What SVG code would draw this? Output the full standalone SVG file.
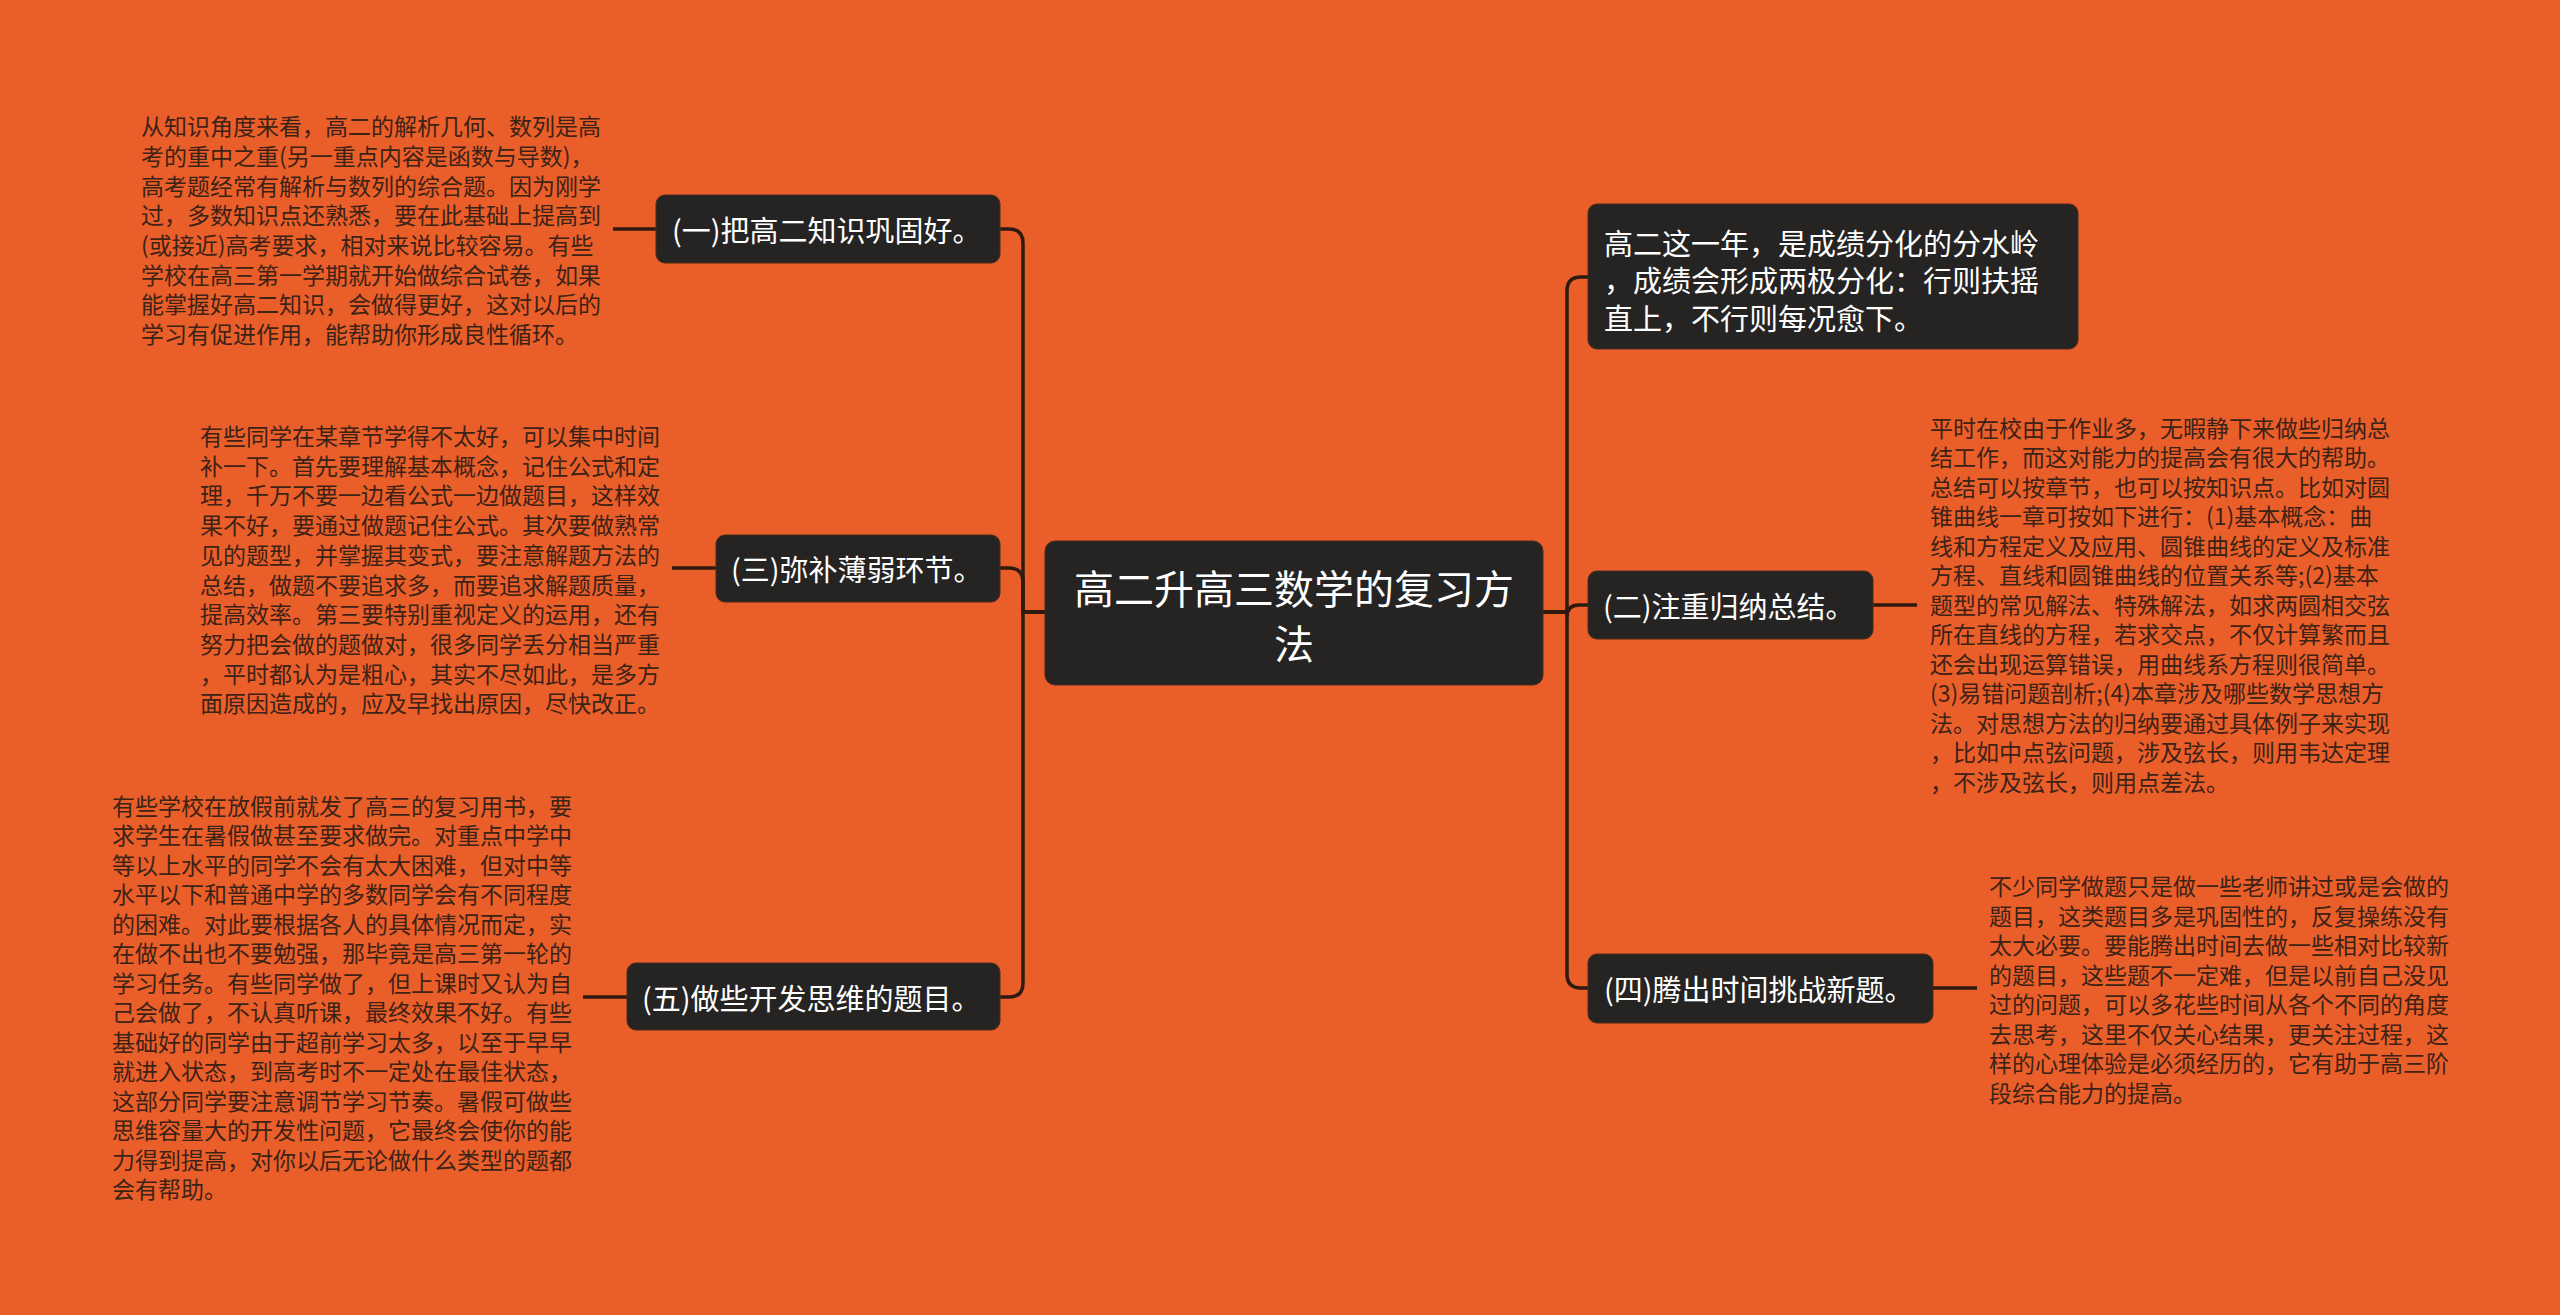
<svg xmlns="http://www.w3.org/2000/svg" width="2560" height="1315" viewBox="0 0 2560 1315">
<style>
.bg{fill:#EA5E2A}
.box{fill:#252423;stroke:#4a2a18;stroke-width:1}
.nt{font-family:"Noto Sans CJK SC","Noto Sans",sans-serif;font-size:29px;fill:#ffffff;dominant-baseline:central}
.ct{font-family:"Noto Sans CJK SC","Noto Sans",sans-serif;font-size:40px;fill:#ffffff;dominant-baseline:central;text-anchor:middle}
.dt{font-family:"Noto Sans CJK SC","Noto Sans",sans-serif;font-size:23px;fill:#3d2216;dominant-baseline:central}
.ln{fill:none;stroke:#2e1a10;stroke-width:3.5}
</style>
<rect class="bg" x="0" y="0" width="2560" height="1315"/>
<g id="connectors">
<path class="ln" d="M1045,612 H1023 V243 Q1023,229 1009,229 H1000"/>
<path class="ln" d="M1045,612 H1023 V582 Q1023,568 1009,568 H1000"/>
<path class="ln" d="M1045,612 H1023 V983 Q1023,997 1009,997 H1000"/>
<path class="ln" d="M1543,612 H1567 V291 Q1567,277 1581,277 H1588"/>
<path class="ln" d="M1543,612 H1567 V617 Q1567,605 1579,605 H1588"/>
<path class="ln" d="M1543,612 H1567 V974 Q1567,988 1581,988 H1588"/>
<path class="ln" d="M656,229 H613"/>
<path class="ln" d="M716,568 H672"/>
<path class="ln" d="M627,997 H583"/>
<path class="ln" d="M1873,605 H1917"/>
<path class="ln" d="M1933,988 H1977"/>
</g>
<g id="root">
<rect class="box" x="1045" y="541" width="498" height="144" rx="10"/>
<text class="ct" x="1294" y="587">高二升高三数学的复习方</text>
<text class="ct" x="1294" y="642">法</text>
</g>
<g id="n1">
<rect class="box" x="656" y="195" width="344" height="68" rx="9"/>
<text class="nt" x="672" y="229">(一)把高二知识巩固好。</text>
</g>
<g id="n3">
<rect class="box" x="716" y="535" width="284" height="67" rx="9"/>
<text class="nt" x="731" y="568">(三)弥补薄弱环节。</text>
</g>
<g id="n5">
<rect class="box" x="627" y="963" width="373" height="67" rx="9"/>
<text class="nt" x="642" y="997">(五)做些开发思维的题目。</text>
</g>
<g id="n0">
<rect class="box" x="1588" y="204" width="490" height="145" rx="9"/>
<text class="nt" x="1604" y="242">高二这一年，是成绩分化的分水岭</text>
<text class="nt" x="1604" y="279">，成绩会形成两极分化：行则扶摇</text>
<text class="nt" x="1604" y="317">直上，不行则每况愈下。</text>
</g>
<g id="n2">
<rect class="box" x="1588" y="571" width="285" height="68" rx="9"/>
<text class="nt" x="1603" y="605">(二)注重归纳总结。</text>
</g>
<g id="n4">
<rect class="box" x="1588" y="954" width="345" height="69" rx="9"/>
<text class="nt" x="1604" y="988">(四)腾出时间挑战新题。</text>
</g>
<g id="d1">
<text class="dt" x="141" y="125">从知识角度来看，高二的解析几何、数列是高</text>
<text class="dt" x="141" y="155">考的重中之重(另一重点内容是函数与导数)，</text>
<text class="dt" x="141" y="185">高考题经常有解析与数列的综合题。因为刚学</text>
<text class="dt" x="141" y="214">过，多数知识点还熟悉，要在此基础上提高到</text>
<text class="dt" x="141" y="244">(或接近)高考要求，相对来说比较容易。有些</text>
<text class="dt" x="141" y="274">学校在高三第一学期就开始做综合试卷，如果</text>
<text class="dt" x="141" y="303">能掌握好高二知识，会做得更好，这对以后的</text>
<text class="dt" x="141" y="333">学习有促进作用，能帮助你形成良性循环。</text>
</g>
<g id="d3">
<text class="dt" x="200" y="435">有些同学在某章节学得不太好，可以集中时间</text>
<text class="dt" x="200" y="465">补一下。首先要理解基本概念，记住公式和定</text>
<text class="dt" x="200" y="494">理，千万不要一边看公式一边做题目，这样效</text>
<text class="dt" x="200" y="524">果不好，要通过做题记住公式。其次要做熟常</text>
<text class="dt" x="200" y="554">见的题型，并掌握其变式，要注意解题方法的</text>
<text class="dt" x="200" y="584">总结，做题不要追求多，而要追求解题质量，</text>
<text class="dt" x="200" y="613">提高效率。第三要特别重视定义的运用，还有</text>
<text class="dt" x="200" y="643">努力把会做的题做对，很多同学丢分相当严重</text>
<text class="dt" x="200" y="673">，平时都认为是粗心，其实不尽如此，是多方</text>
<text class="dt" x="200" y="702">面原因造成的，应及早找出原因，尽快改正。</text>
</g>
<g id="d5">
<text class="dt" x="112" y="805">有些学校在放假前就发了高三的复习用书，要</text>
<text class="dt" x="112" y="834">求学生在暑假做甚至要求做完。对重点中学中</text>
<text class="dt" x="112" y="864">等以上水平的同学不会有太大困难，但对中等</text>
<text class="dt" x="112" y="893">水平以下和普通中学的多数同学会有不同程度</text>
<text class="dt" x="112" y="923">的困难。对此要根据各人的具体情况而定，实</text>
<text class="dt" x="112" y="952">在做不出也不要勉强，那毕竟是高三第一轮的</text>
<text class="dt" x="112" y="982">学习任务。有些同学做了，但上课时又认为自</text>
<text class="dt" x="112" y="1011">己会做了，不认真听课，最终效果不好。有些</text>
<text class="dt" x="112" y="1041">基础好的同学由于超前学习太多，以至于早早</text>
<text class="dt" x="112" y="1070">就进入状态，到高考时不一定处在最佳状态，</text>
<text class="dt" x="112" y="1100">这部分同学要注意调节学习节奏。暑假可做些</text>
<text class="dt" x="112" y="1129">思维容量大的开发性问题，它最终会使你的能</text>
<text class="dt" x="112" y="1159">力得到提高，对你以后无论做什么类型的题都</text>
<text class="dt" x="112" y="1188">会有帮助。</text>
</g>
<g id="d2">
<text class="dt" x="1930" y="427">平时在校由于作业多，无暇静下来做些归纳总</text>
<text class="dt" x="1930" y="456">结工作，而这对能力的提高会有很大的帮助。</text>
<text class="dt" x="1930" y="486">总结可以按章节，也可以按知识点。比如对圆</text>
<text class="dt" x="1930" y="515">锥曲线一章可按如下进行：(1)基本概念：曲</text>
<text class="dt" x="1930" y="545">线和方程定义及应用、圆锥曲线的定义及标准</text>
<text class="dt" x="1930" y="574">方程、直线和圆锥曲线的位置关系等;(2)基本</text>
<text class="dt" x="1930" y="604">题型的常见解法、特殊解法，如求两圆相交弦</text>
<text class="dt" x="1930" y="633">所在直线的方程，若求交点，不仅计算繁而且</text>
<text class="dt" x="1930" y="663">还会出现运算错误，用曲线系方程则很简单。</text>
<text class="dt" x="1930" y="692">(3)易错问题剖析;(4)本章涉及哪些数学思想方</text>
<text class="dt" x="1930" y="722">法。对思想方法的归纳要通过具体例子来实现</text>
<text class="dt" x="1930" y="751">，比如中点弦问题，涉及弦长，则用韦达定理</text>
<text class="dt" x="1930" y="781">，不涉及弦长，则用点差法。</text>
</g>
<g id="d4">
<text class="dt" x="1989" y="885">不少同学做题只是做一些老师讲过或是会做的</text>
<text class="dt" x="1989" y="915">题目，这类题目多是巩固性的，反复操练没有</text>
<text class="dt" x="1989" y="944">太大必要。要能腾出时间去做一些相对比较新</text>
<text class="dt" x="1989" y="974">的题目，这些题不一定难，但是以前自己没见</text>
<text class="dt" x="1989" y="1003">过的问题，可以多花些时间从各个不同的角度</text>
<text class="dt" x="1989" y="1033">去思考，这里不仅关心结果，更关注过程，这</text>
<text class="dt" x="1989" y="1062">样的心理体验是必须经历的，它有助于高三阶</text>
<text class="dt" x="1989" y="1092">段综合能力的提高。</text>
</g>
</svg>
